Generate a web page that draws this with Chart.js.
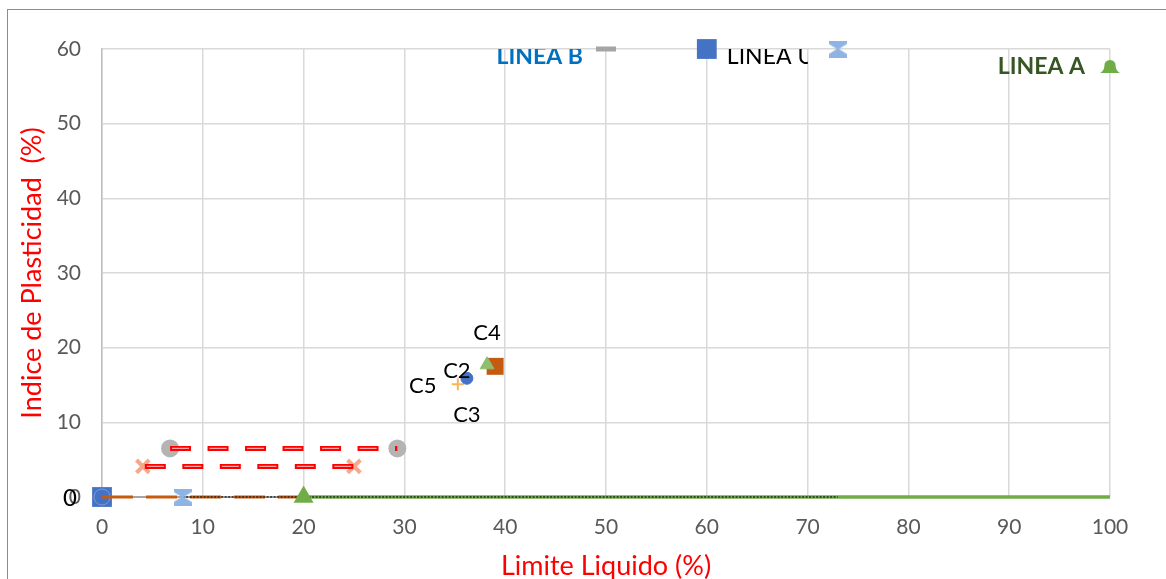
<!DOCTYPE html>
<html>
<head>
<meta charset="utf-8">
<script src="https://cdn.jsdelivr.net/npm/chart.js@4"></script>
<style>
  html, body { margin: 0; padding: 0; background: #fff; overflow: hidden; }
  #marco { position: absolute; left: 7px; top: 9px; width: 1200px; height: 620px; border: 1px solid #8c8c8c; }
  #grafico { position: absolute; left: 0; top: 0; }
</style>
</head>
<body>
<div id="marco"></div>
<canvas id="grafico" width="1166" height="579"></canvas>
<script>
// Ticks de los ejes
const ticksLL = [0, 10, 20, 30, 40, 50, 60, 70, 80, 90, 100];
const ticksIP = [0, 10, 20, 30, 40, 50, 60];

// Muestras (Limite liquido / Indice de plasticidad)
const muestras = ['C1', 'C2', 'C3', 'C4', 'C5'];
const muestraLL = [39.0, 36.2, 36.2, 38.2, 35.3];
const muestraIP = [17.5, 15.9, 15.9, 17.7, 15.1];
const muestraTexto = ['', 'C2', 'C3', 'C4', 'C5'];

// Rangos en rojo discontinuo
const rango1LL = [6.75, 29.3];
const rango1IP = [6.5, 6.5];
const rango2LL = [4.05, 25.0];
const rango2IP = [4.1, 4.1];

// Lineas trazadas sobre el eje
const lineaA_LL = [20, 100];
const lineaA_IP = [0, 0];
const lineaU_LL = [8, 73];
const lineaU_IP = [0, 0];
const lineaB_LL = [0, 50];
const lineaB_IP = [0, 0];
const lineaC_LL = [0, 20];
const lineaC_IP = [0, 0];

// Marcadores de los extremos superiores
const extremoNombre = ['LINEA B', '', 'LINEA U', 'LINEA A'];
const extremoLL = [50, 60, 73, 100];
const extremoIP = [60, 60, 60, 57.8];

// Origen
const origenLL = [0];
const origenIP = [0];
const origenTexto = ['0'];

const pts = (xs, ys) => xs.map((x, i) => ({ x: x, y: ys[i] }));
const pt = (xs, ys, i) => [{ x: xs[i], y: ys[i] }];

// Marcadores dibujados a mano
function relojArena(w, h, color) {
    const c = document.createElement('canvas');
    c.width = w; c.height = h;
    const g = c.getContext('2d');
    g.fillStyle = color;
    g.beginPath();
    g.moveTo(0, 0); g.lineTo(w, 0); g.lineTo(w, h * 0.2);
    g.lineTo(w * 0.56, h / 2);
    g.lineTo(w, h * 0.8); g.lineTo(w, h); g.lineTo(0, h); g.lineTo(0, h * 0.8);
    g.lineTo(w * 0.44, h / 2);
    g.lineTo(0, h * 0.2);
    g.closePath();
    g.fill();
    return c;
}

function campana(w, h, color) {
    const c = document.createElement('canvas');
    c.width = w; c.height = h;
    const g = c.getContext('2d');
    g.fillStyle = color;
    g.beginPath();
    g.moveTo(0, h);
    g.quadraticCurveTo(w * 0.22, h * 0.85, w * 0.22, h * 0.5);
    g.arc(w / 2, h * 0.5, w * 0.28, Math.PI, 0, false);
    g.quadraticCurveTo(w * 0.78, h * 0.85, w, h);
    g.closePath();
    g.fill();
    return c;
}

const fuente = 'Lato, "Open Sans", sans-serif';

// Etiquetas de datos
const etiquetas = {
    id: 'etiquetas',
    afterDatasetsDraw(chart) {
        const ctx = chart.ctx;
        const a = chart.chartArea;
        chart.data.datasets.forEach((ds, i) => {
            if (!ds.etiqueta) return;
            const meta = chart.getDatasetMeta(i);
            const e = ds.estiloEtiqueta;
            meta.data.forEach((p, j) => {
                const txt = ds.etiqueta[j];
                if (!txt) return;
                ctx.save();
                if (e.recorte) {
                    ctx.beginPath();
                    ctx.rect(0, a.top, e.anchoRecorte ? p.x + e.anchoRecorte : chart.width, chart.height);
                    ctx.clip();
                }
                ctx.font = e.font;
                ctx.fillStyle = e.color;
                ctx.textAlign = e.align;
                ctx.textBaseline = 'middle';
                ctx.fillText(txt, p.x + e.dx, p.y + e.dy);
                ctx.restore();
            });
        });
    }
};

const normal = (dx, dy, align) => ({ font: '22px ' + fuente, color: '#000', dx: dx, dy: dy, align: align || 'center' });

const datasets = [
    // muestras
    { data: pt(muestraLL, muestraIP, 3), order: 1, pointStyle: 'triangle', pointRadius: 8,
      backgroundColor: '#8fbf6c', borderColor: '#8fbf6c', borderWidth: 1,
      etiqueta: [muestraTexto[3]], estiloEtiqueta: normal(0, -32) },
    { data: pt(muestraLL, muestraIP, 0), order: 2, pointStyle: 'rect', pointRadius: 12,
      backgroundColor: '#c55a11', borderColor: '#c55a11', borderWidth: 0 },
    { data: pt(muestraLL, muestraIP, 1), order: 1, pointStyle: 'circle', pointRadius: 6,
      backgroundColor: '#4472c4', borderColor: '#4472c4', borderWidth: 1,
      etiqueta: [muestraTexto[1]], estiloEtiqueta: normal(-10, -7) },
    { data: pt(muestraLL, muestraIP, 2), order: 3, pointRadius: 0,
      etiqueta: [muestraTexto[2]], estiloEtiqueta: normal(0, 37) },
    { data: pt(muestraLL, muestraIP, 4), order: 1, pointStyle: 'cross', pointRadius: 6,
      borderColor: '#f7b560', borderWidth: 2,
      etiqueta: [muestraTexto[4]], estiloEtiqueta: normal(-35, 2) },

    // rangos rojos
    { data: pts(rango1LL, rango1IP), order: 5, showLine: true, pointRadius: 0,
      borderColor: '#ffa0a0', borderWidth: 1.2, borderDash: [17, 20.5], borderDashOffset: -2 },
    { data: pts(rango1LL, rango1IP), order: 6, showLine: true, pointRadius: 0,
      borderColor: '#ff0000', borderWidth: 5, borderDash: [21, 16.5] },
    { data: pts(rango1LL, rango1IP), order: 7, pointStyle: 'circle', pointRadius: 9,
      backgroundColor: '#b4b4b4', borderColor: '#b4b4b4', borderWidth: 0 },
    { data: pts(rango2LL, rango2IP), order: 5, showLine: true, pointRadius: 0,
      borderColor: '#ffa0a0', borderWidth: 1.2, borderDash: [17, 20.5], borderDashOffset: -4 },
    { data: pts(rango2LL, rango2IP), order: 6, showLine: true, pointRadius: 0,
      borderColor: '#ff0000', borderWidth: 5, borderDash: [21, 16.5], borderDashOffset: -2 },
    { data: pts(rango2LL, rango2IP), order: 7, pointStyle: 'crossRot', pointRadius: 9,
      borderColor: 'rgba(240,140,100,0.75)', borderWidth: 4 },

    // lineas sobre el eje
    { data: pts(lineaC_LL, lineaC_IP), order: 10, showLine: true, pointRadius: 0,
      borderColor: '#c55a11', borderWidth: 3, borderDash: [31, 13] },
    { data: pts(lineaU_LL, lineaU_IP), order: 9, showLine: true, pointRadius: 0,
      borderColor: '#262626', borderWidth: 1.5, borderDash: [2, 1.5] },
    { data: pts(lineaA_LL, lineaA_IP), order: 11, showLine: true, pointRadius: 0,
      borderColor: '#70ad47', borderWidth: 3.5 },
    { data: pts(lineaB_LL, lineaB_IP), order: 12, showLine: true, pointRadius: 0,
      borderColor: '#a5a5a5', borderWidth: 2 },
    { data: pt(lineaA_LL, lineaA_IP, 0), order: 8, pointStyle: 'triangle', pointRadius: 11.5,
      backgroundColor: '#70ad47', borderColor: '#70ad47', borderWidth: 0 },
    { data: pt(lineaU_LL, lineaU_IP, 0), order: 8, pointStyle: relojArena(18, 17, '#8fb4e3'), pointRadius: 9 },

    // origen
    { data: pts(origenLL, origenIP), order: 13, pointStyle: 'circle', pointRadius: 8,
      backgroundColor: 'rgba(0,0,0,0)', borderColor: '#7f9bd0', borderWidth: 1 },
    { data: pts(origenLL, origenIP), order: 14, pointStyle: 'rect', pointRadius: 14,
      backgroundColor: '#4472c4', borderColor: '#4472c4', borderWidth: 0,
      etiqueta: origenTexto, estiloEtiqueta: { font: '24px ' + fuente, color: '#000', dx: -32, dy: 1, align: 'center' } },

    // extremos superiores
    { data: pt(extremoLL, extremoIP, 0), order: 8, pointStyle: 'line', pointRadius: 10,
      borderColor: '#a5a5a5', borderWidth: 5,
      etiqueta: [extremoNombre[0]],
      estiloEtiqueta: { font: 'bold 23px ' + fuente, color: '#0070c0', dx: -23, dy: 8, align: 'right', recorte: true } },
    { data: pt(extremoLL, extremoIP, 1), order: 8, pointStyle: 'rect', pointRadius: 14,
      backgroundColor: '#4472c4', borderColor: '#4472c4', borderWidth: 0 },
    { data: pt(extremoLL, extremoIP, 2), order: 8, pointStyle: relojArena(18, 17, '#8fb4e3'), pointRadius: 9,
      etiqueta: [extremoNombre[2]],
      estiloEtiqueta: { font: '23px ' + fuente, color: '#000', dx: -111, dy: 8, align: 'left', recorte: true, anchoRecorte: -30 } },
    { data: pt(extremoLL, extremoIP, 3), order: 8, pointStyle: campana(20, 15, '#70ad47'), pointRadius: 10,
      etiqueta: [extremoNombre[3]],
      estiloEtiqueta: { font: 'bold 23px ' + fuente, color: '#375623', dx: -25, dy: 1, align: 'right' } }
];

datasets.forEach(d => { d.clip = false; d.pointHoverRadius = d.pointRadius; });

new Chart(document.getElementById('grafico'), {
    type: 'scatter',
    data: { datasets: datasets },
    options: {
        responsive: false,
        animation: false,
        events: [],
        layout: { padding: { left: 0, top: 49, right: 56, bottom: 0 } },
        plugins: { legend: { display: false }, tooltip: { enabled: false } },
        scales: {
            x: {
                type: 'linear', min: 0, max: 100,
                afterBuildTicks: s => { s.ticks = ticksLL.map(v => ({ value: v })); },
                afterFit: s => { s.height = 82; s.paddingLeft = 0; s.paddingRight = 0; },
                grid: { color: '#d9d9d9', lineWidth: 1.5, drawTicks: false },
                border: { display: false },
                ticks: { color: '#595959', font: { family: fuente, size: 21 }, padding: 18, maxRotation: 0 },
                title: { display: true, text: 'Limite Liquido (%)', color: '#ff0000',
                         font: { family: fuente, size: 27 }, padding: { top: 0, bottom: -3 } }
            },
            y: {
                type: 'linear', min: 0, max: 60,
                afterBuildTicks: s => { s.ticks = ticksIP.map(v => ({ value: v })); },
                afterFit: s => { s.width = 102; s.paddingTop = 0; s.paddingBottom = 0; },
                grid: { color: '#d9d9d9', lineWidth: 1.5, drawTicks: false },
                border: { color: '#bfbfbf', width: 1.5 },
                ticks: { color: '#595959', font: { family: fuente, size: 21 }, padding: 21 },
                title: { display: true, text: 'Indice de Plasticidad  (%)', color: '#ff0000',
                         font: { family: fuente, size: 27 }, padding: { top: 16, bottom: 0 } }
            }
        }
    },
    plugins: [etiquetas]
});
</script>
</body>
</html>
